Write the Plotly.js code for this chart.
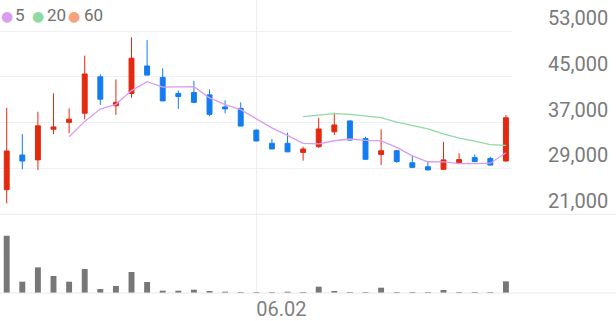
<!DOCTYPE html>
<html>
<head>
<meta charset="utf-8">
<script src="https://cdn.plot.ly/plotly-3.0.1.min.js"></script>
<style>
html,body{margin:0;padding:0;background:#fff;}
#chart{width:616px;height:321px;}
</style>
</head>
<body>
<div id="chart"></div>
<script>
// ---- data ----
const dayIndex = [0,1,2,3,4,5,6,7,8,9,10,11,12,13,14,15,16,17,18,19,20,21,22,23,24,25,26,27,28,29,30,31,32];
const openP  = [25300,31350,30500,35850,37050,38650,45000,39950,42100,46900,44900,42100,42250,41850,39750,39500,35700,33400,33400,31800,32800,35400,37300,34250,31450,32100,30000,29300,28850,30000,30900,30750,30300];
const highP  = [39600,35000,38900,42100,39500,48700,45450,44550,51900,51450,46500,42600,44300,42800,40900,40550,35800,34150,35250,32800,37850,38750,37400,34550,35850,32200,31350,30300,33650,31650,31450,31050,38350];
const lowP   = [22900,28850,28750,35000,35150,37600,40100,38350,41350,45300,40750,39400,40400,38100,38650,36400,33750,32400,31900,30350,32600,34850,33900,30550,29600,30000,29050,28700,28800,29950,30150,29550,30200];
const closeP = [32050,30300,36450,36250,37600,45500,41100,40550,48250,45300,40800,41550,40550,38450,39400,36400,33800,32400,31900,32400,35900,36600,33950,30600,32100,30200,29200,28750,30500,30550,30200,29600,37850];
const ma5    = [null,null,null,null,34530,37220,39380,40200,42600,44140,43200,43290,43290,41330,40150,39270,37720,36090,34780,33380,33280,33840,34150,33890,33830,32690,31210,30170,30150,29840,29840,29920,31740];
const ma20   = [null,null,null,null,null,null,null,null,null,null,null,null,null,null,null,null,null,null,null,38050,38240,38560,38430,38150,37880,37110,36520,35930,35040,34300,33770,33170,33040];
const volume = [1720000,340000,770000,510000,340000,720000,120000,210000,630000,330000,70000,70000,100000,60000,40000,30000,30000,30000,40000,30000,190000,60000,30000,30000,160000,30000,30000,30000,90000,30000,30000,30000,350000];
const xTickIndex = [16];
const xTickText  = ['06.02'];
const legendNames = ['5','20','60'];
const legendColors = ['#d99cf0','#8fdaa2','#f7a27e'];

// ---- styles ----
const RED = '#e3290f', BLUE = '#137cf0';
const priceBottom = 0.3324, volBottom = 0.0872;

const traces = [
  {
    type:'candlestick', x:dayIndex, open:openP, high:highP, low:lowP, close:closeP,
    xaxis:'x', yaxis:'y',
    increasing:{line:{color:RED,width:1}, fillcolor:RED},
    decreasing:{line:{color:BLUE,width:1}, fillcolor:BLUE},
    whiskerwidth:0, hoverinfo:'skip', showlegend:false
  },
  {type:'scatter', mode:'lines', x:dayIndex, y:ma20, xaxis:'x', yaxis:'y',
   line:{color:legendColors[1], width:1.3}, hoverinfo:'skip', showlegend:false},
  {type:'scatter', mode:'lines', x:dayIndex, y:ma5, xaxis:'x', yaxis:'y',
   line:{color:legendColors[0], width:1.3}, hoverinfo:'skip', showlegend:false},
  {type:'bar', x:dayIndex, y:volume, xaxis:'x2', yaxis:'y2',
   marker:{color:'#777777', line:{width:0}}, hoverinfo:'skip', showlegend:false}
];

const legendX = [[7,19.5],[38,56],[74,93]];
const annotations = [];
legendNames.forEach((n,i)=>{
  annotations.push({xref:'paper', yref:'paper', x:legendX[i][0]/512, y:1-16/321, xanchor:'center', yanchor:'middle',
    text:'●', showarrow:false, font:{family:'DejaVu Sans', size:14, color:legendColors[i]}});
  annotations.push({xref:'paper', yref:'paper', x:legendX[i][1]/512, y:1-15.5/321, xanchor:'center', yanchor:'middle',
    text:n, showarrow:false, font:{family:'Roboto', size:17, color:'#707070'}});
});

const layout = {
  width:616, height:321,
  margin:{l:0, r:104, t:0, b:0},
  paper_bgcolor:'#fff', plot_bgcolor:'#fff',
  showlegend:false,
  boxgap:0.55, bargap:0.62,
  font:{family:'Roboto', color:'#7a7a7a'},
  xaxis:{
    domain:[0,1], anchor:'y', range:[-0.43,32.39], rangeslider:{visible:false},
    tickvals:xTickIndex, ticktext:[''], showgrid:true, gridcolor:'#eeeeee', gridwidth:1,
    zeroline:false, showline:false, ticks:'', fixedrange:true
  },
  xaxis2:{
    domain:[0,1], anchor:'y2', matches:'x', range:[-0.43,32.39],
    tickvals:xTickIndex, ticktext:xTickText, showgrid:true, gridcolor:'#eeeeee', gridwidth:1,
    ticklabelposition:'outside right', ticklabelstandoff:2,
    tickfont:{family:'Roboto', size:20, color:'#808080'},
    zeroline:false, showline:false, ticks:'', fixedrange:true
  },
  yaxis:{
    domain:[priceBottom,1], anchor:'x', side:'right', range:[21000,58413],
    tick0:21000, dtick:8000, tickformat:',d',
    showgrid:true, gridcolor:'#f0f0f0', gridwidth:1, zeroline:false, showline:false, ticks:'',
    tickfont:{family:'Roboto', size:20, color:'#7a7a7a'},
    ticklabelstandoff:35, ticklabelshift:-13, fixedrange:true
  },
  yaxis2:{
    domain:[volBottom,priceBottom], anchor:'x2', range:[0,2362000],
    showgrid:false, showticklabels:false, zeroline:false, showline:false, ticks:'', fixedrange:true
  },
  shapes:[
    {type:'line', xref:'paper', yref:'paper', x0:0, x1:616/512, y0:priceBottom, y1:priceBottom, line:{color:'#e8e8e8', width:1}},
    {type:'line', xref:'paper', yref:'paper', x0:0, x1:616/512, y0:volBottom, y1:volBottom, line:{color:'#e8e8e8', width:1}}
  ],
  annotations:annotations
};

Plotly.newPlot('chart', traces, layout, {displayModeBar:false, staticPlot:true});
</script>
</body>
</html>
